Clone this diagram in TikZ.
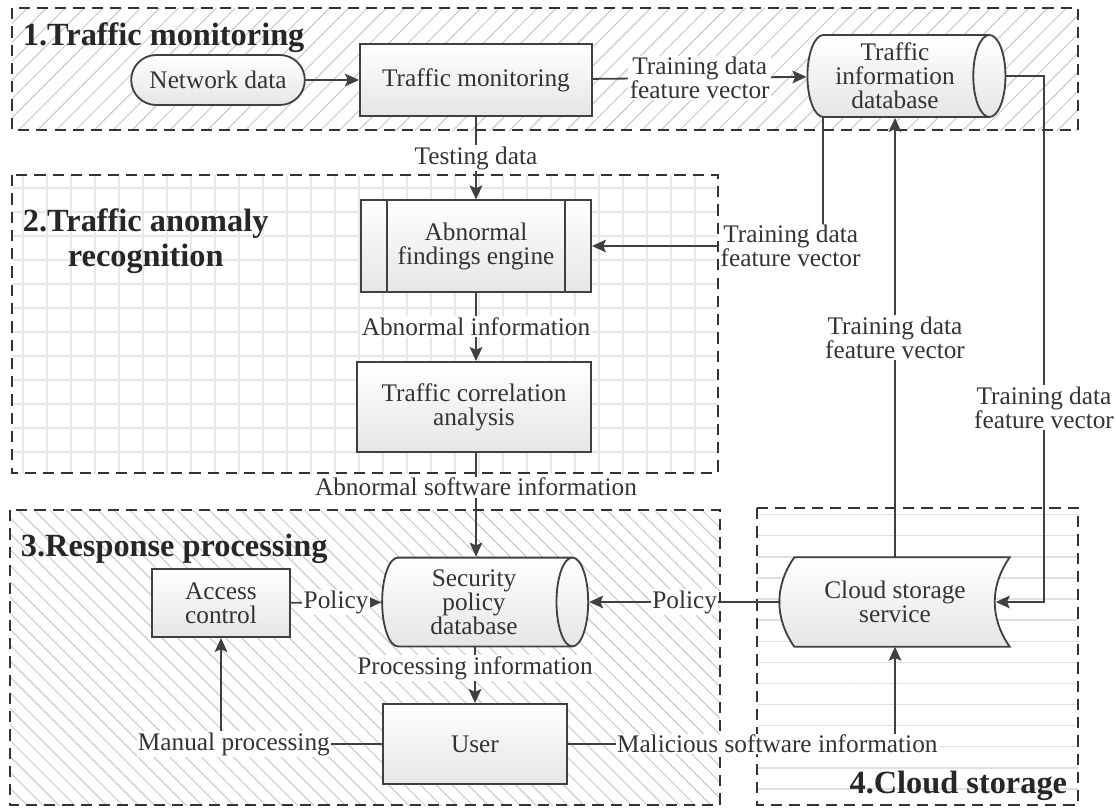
\documentclass[tikz,border=0pt]{standalone}
\usepackage{fontspec}
\setmainfont{Liberation Serif}
\usetikzlibrary{arrows.meta,positioning,shapes.geometric,shapes.misc,patterns.meta,backgrounds}

\begin{document}
\begin{tikzpicture}[x=0.025cm,y=-0.025cm,
  every node/.style={font=\fontsize{18}{17}\selectfont,text=black!80},
  grp/.style={draw=black!80,dash pattern=on 8pt off 5pt,line width=1.5pt},
  ttl/.style={font=\fontsize{23}{25}\selectfont\bfseries,text=black!85},
  proc/.style={draw=black!75,line width=1.3pt,top color=white,bottom color=black!10,align=center,inner sep=2pt},
  dbase/.style={proc,cylinder,shape aspect=0.45},
  term/.style={proc,rounded rectangle},
  store/.style={align=center,inner sep=0pt},
  lbl/.style={fill=white,inner sep=1pt,align=center},
  ar/.style={-{Stealth[length=10pt,width=9pt,inset=2pt]},line width=1.3pt,draw=black!75}]
\useasboundingbox (0,0) rectangle (1116,810);
% group frames
\begin{scope}[on background layer]
\fill[pattern={Lines[angle=45,distance=9.5pt,line width=0.7pt]},pattern color=black!22] (12,8) rectangle (1078,130);
\fill[pattern={Hatch[angle=0,distance=17pt,line width=1.4pt]},pattern color=black!9] (12,175) rectangle (718,473);
\fill[pattern={Lines[angle=-45,distance=8pt,line width=0.7pt]},pattern color=black!22] (10,510) rectangle (720,805);
\fill[pattern={Lines[angle=0,distance=15pt,line width=1pt]},pattern color=black!12] (757,508) rectangle (1078,805);
\draw[grp] (12,8) rectangle (1078,130);
\draw[grp] (12,175) rectangle (718,473);
\draw[grp] (10,510) rectangle (720,805);
\draw[grp] (757,508) rectangle (1078,805);
\end{scope}
\node[ttl,anchor=west] (t1) at (18,38) {1.Traffic monitoring};
\node[ttl,anchor=north west,align=center] (t2) at (18,204) {2.Traffic anomaly\\recognition};
\node[ttl,anchor=west] (t3) at (16,549) {3.Response processing};
\node[ttl,anchor=east] (t4) at (1072,786) {4.Cloud storage};
% nodes
\node[term,minimum width=4.48cm,minimum height=1.25cm] (netdata) at (218,80) {Network data};
\node[proc,minimum width=5.8cm,minimum height=1.8cm] (tmon) at (476,80) {Traffic monitoring};
\node[dbase,minimum width=2.05cm,minimum height=4.95cm] (tdb) at (895,76) {Traffic\\information\\database};
\node[proc,minimum width=5.75cm,minimum height=2.28cm] (engine) at (476,246) {Abnormal\\findings engine};
\draw[draw=black!75,line width=1.3pt] ([xshift=0.68cm]engine.north west) -- ([xshift=0.68cm]engine.south west)
  ([xshift=-0.68cm]engine.north east) -- ([xshift=-0.68cm]engine.south east);
\node[proc,minimum width=5.85cm,minimum height=2.25cm] (corr) at (474,407) {Traffic correlation\\analysis};
\node[dbase,minimum width=2.22cm,minimum height=5.15cm] (secdb) at (474,602) {Security\\policy\\database};
\node[proc,minimum width=3.45cm,minimum height=1.7cm] (access) at (221,603) {Access\\control};
\node[proc,minimum width=4.6cm,minimum height=2cm] (user) at (475,744) {User};
\node[store,minimum width=5.72cm,minimum height=2.22cm] (cloud) at (895,602) {Cloud storage\\service};
\begin{scope}[on background layer]
\draw[proc] ([xshift=0.35cm]cloud.north west) to[bend right=35] ([xshift=0.35cm]cloud.south west)
  -- (cloud.south east) to[bend left=35] (cloud.north east) -- cycle;
\end{scope}
\coordinate (rt) at (1044,80);
% connectors
\draw[ar] (netdata) -- (tmon);
\draw[ar] (tmon) -- node[lbl]{Training data\\feature vector} (tdb);
\draw[ar] (tmon) -- node[lbl]{Testing data} (tmon.south |- engine.north);
\draw[ar] (engine.south) -- node[lbl]{Abnormal information} (engine.south |- corr.north);
\draw[ar] (engine.south |- corr.south) -- node[lbl,pos=0.33]{Abnormal software information} (engine.south |- secdb.north);
\draw[ar] (user.north |- secdb.south) -- node[lbl,pos=0.37]{Processing information} (user.north);
\draw[ar] (access) -- node[lbl]{Policy} (secdb);
\draw[ar] (cloud.west) -- node[lbl]{Policy} (secdb.east);
\draw[ar] (user.west) -| node[lbl,pos=0.46]{Manual processing} (access.south);
\draw[ar] (user.east) -| node[lbl,pos=0.32]{Malicious software information} (cloud.south);
\draw[ar] (cloud.north) -- node[lbl]{Training data\\feature vector} (cloud.north |- tdb.south);
\draw[ar] ([xshift=-1.8cm]tdb.south) |- node[lbl,pos=0.57]{Training data\\feature vector} (engine.east);
\draw[ar] (tdb.east) -- (tdb.east -| rt) -- node[lbl,pos=0.63]{Training data\\feature vector} (rt |- cloud.east)
  -- ([xshift=-0.35cm]cloud.east);
\end{tikzpicture}
\end{document}
